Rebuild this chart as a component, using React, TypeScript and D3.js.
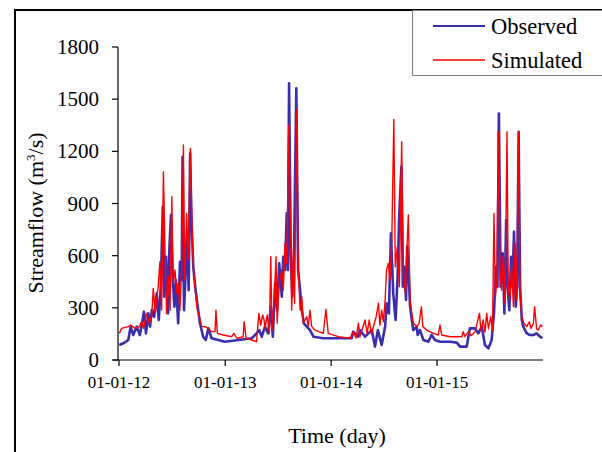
import React, { useMemo } from "react"
import * as d3 from "d3"

// ── Data (day offsets from 01-01-2012, streamflow in m³/s) ──────────────────────

const START = new Date(2012, 0, 1)
const END = new Date(2016, 0, 1)

const yTicks = [0, 300, 600, 900, 1200, 1500, 1800]
const xTickYears = [2012, 2013, 2014, 2015]

const obsDays = [
  1, 15, 32, 40, 49, 61, 72, 86, 93, 101, 107, 113, 121, 130, 137, 144, 151, 156,
  162, 169, 173, 179, 185, 191, 196, 204, 210, 216, 219, 224, 231, 235, 240, 245,
  250, 256, 262, 268, 279, 290, 299, 308, 319, 342, 365, 411, 457, 469, 483, 492,
  503, 514, 523, 530, 538, 545, 552, 561, 566, 572, 578, 582, 586, 592, 597, 603,
  611, 617, 624, 630, 637, 647, 658, 670, 704, 750, 802, 807, 824, 830, 848, 871,
  882, 892, 905, 917, 922, 930, 937, 945, 953, 960, 965, 973, 978, 983, 989, 993,
  998, 1003, 1009, 1014, 1026, 1029, 1037, 1049, 1066, 1077, 1089, 1106, 1141,
  1164, 1175, 1198, 1209, 1227, 1238, 1250, 1261, 1273, 1284, 1292, 1299, 1304,
  1309, 1315, 1322, 1328, 1334, 1339, 1345, 1351, 1356, 1361, 1367, 1372, 1377,
  1382, 1388, 1393, 1405, 1416, 1428, 1439, 1451, 1459,
]
const obsValues = [
  86, 96, 115, 192, 144, 192, 144, 278, 153, 268, 192, 287, 249, 383, 230, 422, 882,
  364, 594, 268, 613, 834, 460, 307, 460, 211, 565, 460, 1169, 287, 556, 728, 402,
  1188, 786, 536, 431, 345, 211, 134, 115, 182, 125, 115, 105, 115, 125, 144, 172,
  134, 192, 153, 307, 134, 441, 287, 556, 364, 594, 518, 843, 518, 1591, 594, 364,
  594, 1562, 518, 402, 287, 211, 192, 172, 134, 125, 125, 125, 163, 134, 172, 134,
  172, 77, 172, 86, 192, 326, 268, 728, 383, 230, 479, 805, 1112, 422, 536, 345,
  652, 498, 307, 230, 172, 192, 144, 172, 115, 105, 144, 115, 105, 105, 100, 77,
  77, 182, 182, 153, 192, 86, 67, 115, 268, 536, 422, 1418, 422, 613, 268, 805,
  422, 287, 594, 422, 738, 307, 422, 1313, 422, 230, 192, 153, 144, 144, 153, 134,
  125,
]

const simDays = [
  1, 9, 32, 41, 55, 70, 78, 84, 95, 104, 113, 118, 125, 135, 141, 147, 153, 159,
  164, 170, 176, 182, 187, 193, 199, 204, 210, 216, 222, 226, 233, 238, 246, 251,
  256, 262, 270, 277, 285, 296, 308, 319, 331, 334, 339, 359, 388, 396, 406, 428,
  431, 438, 457, 474, 482, 488, 495, 500, 503, 511, 518, 523, 527, 534, 541, 545,
  552, 561, 566, 572, 578, 585, 589, 595, 601, 605, 612, 618, 624, 630, 635, 647,
  652, 658, 664, 675, 704, 713, 721, 756, 796, 807, 817, 825, 830, 848, 855, 862,
  870, 886, 894, 899, 905, 911, 917, 922, 928, 934, 940, 947, 952, 959, 966, 974,
  980, 987, 991, 997, 1003, 1009, 1014, 1026, 1034, 1042, 1047, 1060, 1083, 1100,
  1106, 1112, 1141, 1181, 1186, 1192, 1204, 1213, 1227, 1242, 1247, 1255, 1261,
  1267, 1273, 1281, 1287, 1292, 1297, 1302, 1307, 1313, 1318, 1324, 1330, 1337,
  1341, 1347, 1353, 1359, 1365, 1370, 1377, 1382, 1388, 1395, 1405, 1414, 1420,
  1428, 1432, 1439, 1445, 1453, 1459,
]
const simValues = [
  153, 182, 192, 200, 182, 192, 220, 182, 268, 211, 259, 412, 268, 422, 565, 287,
  1083, 594, 268, 479, 287, 939, 441, 518, 383, 441, 287, 536, 1236, 460, 843, 575,
  1217, 805, 536, 422, 287, 249, 192, 192, 182, 163, 163, 287, 153, 144, 134, 153,
  125, 134, 220, 125, 115, 105, 268, 201, 259, 230, 182, 259, 153, 594, 172, 326,
  594, 211, 441, 518, 402, 671, 556, 1351, 1016, 287, 633, 326, 1441, 518, 287,
  364, 211, 249, 192, 287, 192, 172, 153, 291, 153, 134, 125, 163, 125, 211, 134,
  230, 150, 230, 150, 249, 326, 200, 287, 220, 345, 518, 556, 460, 690, 1384, 536,
  652, 422, 1255, 498, 383, 594, 834, 345, 268, 211, 192, 211, 307, 192, 172, 153,
  144, 201, 144, 134, 134, 163, 134, 163, 140, 163, 268, 170, 230, 160, 268, 180,
  249, 170, 843, 364, 460, 1313, 498, 402, 594, 326, 1313, 422, 345, 536, 307,
  671, 345, 1313, 383, 249, 211, 192, 220, 182, 211, 307, 180, 172, 201, 192,
]

const seriesNames = ["Observed", "Simulated"]
const seriesColors = ["#3a2db0", "#ff0000"]

// ── Chart ──────────────────────────────────────────────────────────────────────

const FONT = "Liberation Serif, DejaVu Serif, serif"
const W = 602
const H = 452
const plot = { left: 119, right: 543, top: 47, bottom: 360 }

type Pt = { date: Date; value: number }

function toPoints(days: number[], values: number[]): Pt[] {
  return days.map((d, i) => ({ date: d3.timeDay.offset(START, d), value: values[i] }))
}

export default function App() {
  const x = useMemo(
    () => d3.scaleTime().domain([START, END]).range([plot.left, plot.right]),
    [],
  )
  const y = useMemo(
    () => d3.scaleLinear().domain([0, 1800]).range([plot.bottom, plot.top]),
    [],
  )

  const line = d3
    .line<Pt>()
    .x(d => x(d.date))
    .y(d => y(d.value))

  const obs = toPoints(obsDays, obsValues)
  const sim = toPoints(simDays, simValues)
  const fmt = d3.timeFormat("%m-%d-%y")
  const xTicks = xTickYears.map(yr => new Date(yr, 0, 1))
  const txt = { fontFamily: FONT }

  return (
    <svg
      width={W}
      height={H}
      style={{ position: "absolute", left: 0, top: 0, background: "white", fontFamily: FONT }}
    >
      {/* outer frame */}
      <line x1={15} x2={15} y1={9} y2={H} stroke="#000" strokeWidth={2} />
      <line x1={14} x2={W} y1={10} y2={10} stroke="#000" strokeWidth={2} />

      {/* series */}
      <path d={line(obs) ?? ""} fill="none" stroke={seriesColors[0]} strokeWidth={2.6} strokeLinejoin="round" />
      <path d={line(sim) ?? ""} fill="none" stroke={seriesColors[1]} strokeWidth={1.4} strokeLinejoin="round" />

      {/* y axis */}
      <line x1={plot.left - 1} x2={plot.left - 1} y1={y(1800)} y2={y(0)} stroke="#000" strokeWidth={1.2} />
      {yTicks.map(t => (
        <g key={t} transform={`translate(0,${y(t)})`}>
          <line x1={plot.left - 7} x2={plot.left - 1} stroke="#000" strokeWidth={1.2} />
          <text x={99} dy="0.34em" textAnchor="end" fontSize={21} fill="#000" style={txt}>
            {t}
          </text>
        </g>
      ))}

      {/* x axis */}
      <line x1={plot.left - 6} x2={plot.right} y1={plot.bottom} y2={plot.bottom} stroke="#000" strokeWidth={1.2} />
      {xTicks.map(t => (
        <g key={t.getTime()} transform={`translate(${x(t)},${plot.bottom})`}>
          <line y1={0} y2={6} stroke="#000" strokeWidth={1.2} />
          <text y={28} textAnchor="middle" fontSize={17} fill="#000" style={txt}>
            {fmt(t)}
          </text>
        </g>
      ))}

      {/* axis titles */}
      <text x={337} y={443} textAnchor="middle" fontSize={22} fill="#000" style={txt}>
        Time (day)
      </text>
      <text
        transform={`translate(43,${213}) rotate(-90)`}
        textAnchor="middle"
        fontSize={22}
        fill="#000"
        style={txt}
      >
        Streamflow (m
        <tspan dy={-8} fontSize={13}>3</tspan>
        <tspan dy={8}>/s)</tspan>
      </text>

      {/* legend */}
      <rect x={412.5} y={10.5} width={200} height={65} fill="white" stroke="#7f7f7f" strokeWidth={1} />
      {seriesNames.map((name, i) => (
        <g key={name} transform={`translate(0,${26 + i * 34})`}>
          <line x1={433} x2={485} stroke={seriesColors[i]} strokeWidth={i === 0 ? 2 : 1.3} />
          <text x={491} y={8} fontSize={22.5} fill="#000" style={txt}>
            {name}
          </text>
        </g>
      ))}
    </svg>
  )
}
